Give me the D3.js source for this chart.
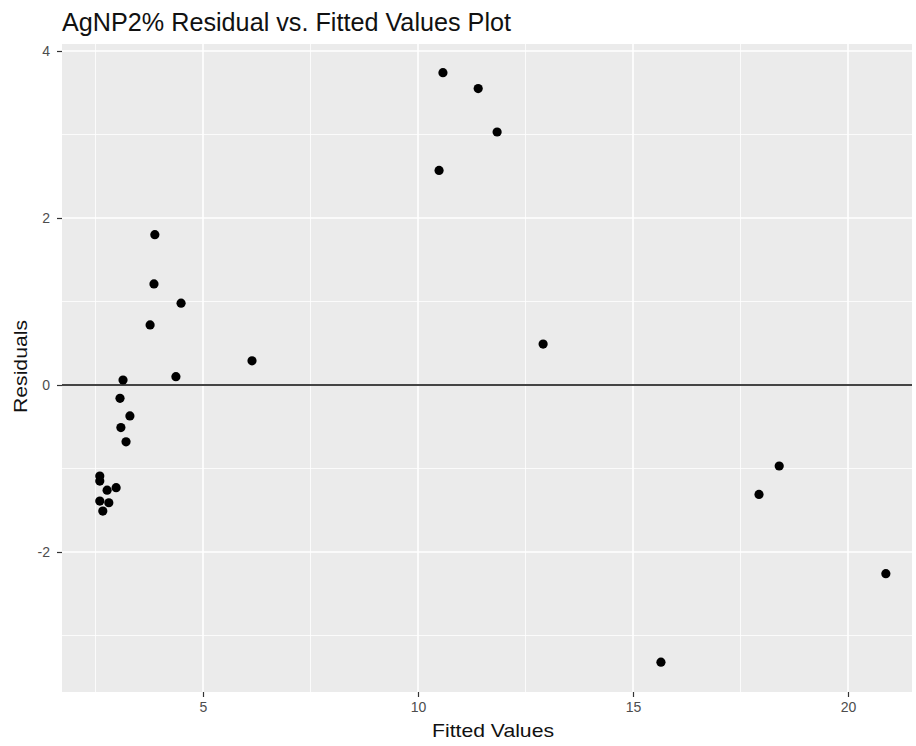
<!DOCTYPE html>
<html>
<head>
<meta charset="utf-8">
<script src="https://cdn.jsdelivr.net/npm/d3@7"></script>
<style>
  html, body { margin: 0; padding: 0; background: #fff; }
  svg { display: block; }
</style>
</head>
<body>
<svg id="chart" width="916" height="746"></svg>
<script>
const fitted = [10.58, 11.40, 11.84, 10.49, 12.91, 3.88, 3.86, 4.49, 3.77, 6.14, 4.37, 3.14, 3.07, 3.30, 3.09, 3.21, 2.60, 2.60, 2.77, 2.98, 2.60, 2.81, 2.67, 17.93, 18.40, 15.65, 20.88];
const residuals = [3.74, 3.55, 3.03, 2.57, 0.49, 1.80, 1.21, 0.98, 0.72, 0.29, 0.10, 0.06, -0.16, -0.37, -0.51, -0.68, -1.09, -1.15, -1.26, -1.23, -1.39, -1.41, -1.51, -1.31, -0.97, -3.32, -2.26];
const xTicks = [5, 10, 15, 20];
const xMinor = [2.5, 7.5, 12.5, 17.5];
const yTicks = [-2, 0, 2, 4];
const yMinor = [-3, -1, 1, 3];
const titleText = "AgNP2% Residual vs. Fitted Values Plot";
const xLabel = "Fitted Values";
const yLabel = "Residuals";

const svg = d3.select("#chart");
const font = "'Liberation Sans', Arial, Helvetica, sans-serif";
const L = 62, R = 912, T = 44, B = 692;

const x = d3.scaleLinear().domain([5, 20]).range([203, 848]);
const y = d3.scaleLinear().domain([-2, 4]).range([552, 51]);

svg.append("rect").attr("x", L).attr("y", T).attr("width", R - L).attr("height", B - T).attr("fill", "#EBEBEB");

const g = svg.append("g");
g.selectAll(".xm").data(xMinor).join("line")
  .attr("x1", d => x(d)).attr("x2", d => x(d)).attr("y1", T).attr("y2", B)
  .attr("stroke", "#fff").attr("stroke-width", 0.8);
g.selectAll(".ym").data(yMinor).join("line")
  .attr("y1", d => y(d)).attr("y2", d => y(d)).attr("x1", L).attr("x2", R)
  .attr("stroke", "#fff").attr("stroke-width", 0.8);
g.selectAll(".xM").data(xTicks).join("line")
  .attr("x1", d => x(d)).attr("x2", d => x(d)).attr("y1", T).attr("y2", B)
  .attr("stroke", "#fff").attr("stroke-width", 1.6);
g.selectAll(".yM").data(yTicks).join("line")
  .attr("y1", d => y(d)).attr("y2", d => y(d)).attr("x1", L).attr("x2", R)
  .attr("stroke", "#fff").attr("stroke-width", 1.6);

svg.append("line").attr("x1", L).attr("x2", R).attr("y1", y(0)).attr("y2", y(0))
  .attr("stroke", "#444").attr("stroke-width", 2);

svg.append("g").selectAll("circle").data(fitted.map((f, i) => [f, residuals[i]])).join("circle")
  .attr("cx", d => x(d[0])).attr("cy", d => y(d[1])).attr("r", 4.6).attr("fill", "#000");

const fmt = d => String(d);
const xAxis = d3.axisBottom(x).tickValues(xTicks).tickSize(5).tickPadding(5).tickFormat(fmt);
const xg = svg.append("g").attr("transform", `translate(0,${B})`).call(xAxis);
xg.select(".domain").remove();
xg.selectAll("line").attr("stroke", "#333").attr("stroke-width", 1.2);
xg.selectAll("text").attr("fill", "#4d4d4d").style("font-family", font).style("font-size", "14px");

const yAxis = d3.axisLeft(y).tickValues(yTicks).tickSize(5).tickPadding(7).tickFormat(fmt);
const yg = svg.append("g").attr("transform", `translate(${L},0)`).call(yAxis);
yg.select(".domain").remove();
yg.selectAll("line").attr("stroke", "#333").attr("stroke-width", 1.2);
yg.selectAll("text").attr("fill", "#4d4d4d").style("font-family", font).style("font-size", "14px");

svg.append("text").attr("x", 62).attr("y", 31).text(titleText)
  .attr("textLength", 449).attr("lengthAdjust", "spacingAndGlyphs")
  .style("font-family", font).style("font-size", "26px").attr("fill", "#111");
svg.append("text").attr("x", 493).attr("y", 737).attr("text-anchor", "middle").text(xLabel)
  .attr("textLength", 122).attr("lengthAdjust", "spacingAndGlyphs")
  .style("font-family", font).style("font-size", "19px").attr("fill", "#111");
svg.append("text").attr("transform", `translate(27,366.5) rotate(-90)`).attr("text-anchor", "middle").text(yLabel)
  .attr("textLength", 93).attr("lengthAdjust", "spacingAndGlyphs")
  .style("font-family", font).style("font-size", "19px").attr("fill", "#111");
</script>
</body>
</html>
